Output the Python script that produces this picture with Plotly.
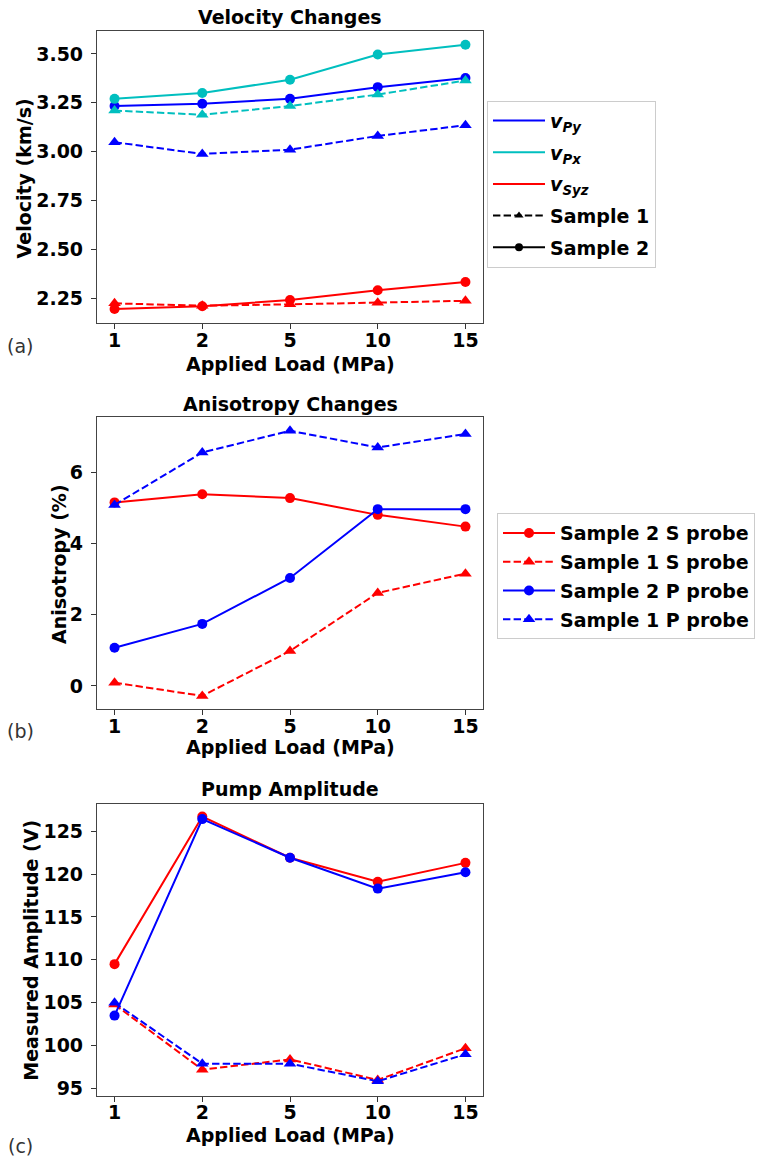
import plotly.graph_objects as go

# ---------------- data ----------------
loads = ["1", "2", "5", "10", "15"]

# Panel (a) Velocity (km/s)
vpy_s1 = [3.048, 2.988, 3.010, 3.080, 3.135]
vpy_s2 = [3.233, 3.245, 3.270, 3.330, 3.377]
vpx_s1 = [3.210, 3.189, 3.233, 3.292, 3.364]
vpx_s2 = [3.270, 3.300, 3.368, 3.497, 3.547]
vsyz_s1 = [2.223, 2.211, 2.218, 2.226, 2.236]
vsyz_s2 = [2.194, 2.208, 2.240, 2.290, 2.332]

# Panel (b) Anisotropy (%)
aniso_s2_s = [5.15, 5.38, 5.27, 4.80, 4.47]
aniso_s1_s = [0.09, -0.28, 0.98, 2.61, 3.15]
aniso_s2_p = [1.07, 1.74, 3.03, 4.96, 4.96]
aniso_s1_p = [5.08, 6.55, 7.16, 6.69, 7.07]

# Panel (c) Pump amplitude (V)
amp_s2_s = [109.5, 126.7, 121.9, 119.1, 121.3]
amp_s1_s = [104.8, 97.2, 98.4, 96.0, 99.7]
amp_s2_p = [103.5, 126.4, 121.9, 118.3, 120.2]
amp_s1_p = [105.0, 97.9, 97.9, 95.85, 99.0]

vel_ticks = [2.25, 2.50, 2.75, 3.00, 3.25, 3.50]
aniso_ticks = [0, 2, 4, 6]
amp_ticks = [95, 100, 105, 110, 115, 120, 125]

# ---------------- style ----------------
BLUE = "#0000ff"
CYAN = "#00bfbf"
RED = "#ff0000"
DASH = "7.4px,3.2px"
FONT = "DejaVu Sans"
FS = 19
W, H = 760, 1162

def px_x(p):
    return p / W

def px_y(p):
    return 1 - p / H

fig = go.Figure()

def msize(symbol):
    return 10 if symbol == "circle" else 11

def add(x, y, color, dash, symbol, xa, ya):
    fig.add_trace(go.Scatter(
        x=x, y=y, mode="lines+markers", showlegend=False,
        line=dict(color=color, width=2, dash=dash),
        marker=dict(color=color, size=msize(symbol), symbol=symbol),
        xaxis=xa, yaxis=ya, cliponaxis=False))

# Panel (a)
add(loads, vpy_s1, BLUE, DASH, "triangle-up", "x", "y")
add(loads, vpy_s2, BLUE, "solid", "circle", "x", "y")
add(loads, vpx_s1, CYAN, DASH, "triangle-up", "x", "y")
add(loads, vpx_s2, CYAN, "solid", "circle", "x", "y")
add(loads, vsyz_s1, RED, DASH, "triangle-up", "x", "y")
add(loads, vsyz_s2, RED, "solid", "circle", "x", "y")

# legend (a) entries
leg_a = [
    ("<i>v</i><sub><i>Py</i></sub>", BLUE, "solid", "lines", "circle"),
    ("<i>v</i><sub><i>Px</i></sub>", CYAN, "solid", "lines", "circle"),
    ("<i>v</i><sub><i>Syz</i></sub>", RED, "solid", "lines", "circle"),
    ("Sample 1", "black", DASH, "lines+markers", "triangle-up"),
    ("Sample 2", "black", "solid", "lines+markers", "circle"),
]
for i, (nm, c, d, m, s) in enumerate(leg_a):
    fig.add_trace(go.Scatter(
        x=[None], y=[None], mode=m, name=nm, legend="legend",
        legendgroup="a%d" % i,
        line=dict(color=c, width=2, dash=d),
        marker=dict(color=c, size=8, symbol=s),
        xaxis="x", yaxis="y"))

# Panel (b)
def addleg(x, y, color, dash, symbol, xa, ya, name, group):
    fig.add_trace(go.Scatter(
        x=x, y=y, mode="lines+markers", name=name, legend="legend2",
        legendgroup=group, showlegend=True,
        line=dict(color=color, width=2, dash=dash),
        marker=dict(color=color, size=msize(symbol), symbol=symbol),
        xaxis=xa, yaxis=ya, cliponaxis=False))

addleg(loads, aniso_s2_s, RED, "solid", "circle", "x2", "y2", "Sample 2 S probe", "b0")
addleg(loads, aniso_s1_s, RED, DASH, "triangle-up", "x2", "y2", "Sample 1 S probe", "b1")
addleg(loads, aniso_s2_p, BLUE, "solid", "circle", "x2", "y2", "Sample 2 P probe", "b2")
addleg(loads, aniso_s1_p, BLUE, DASH, "triangle-up", "x2", "y2", "Sample 1 P probe", "b3")

# Panel (c)
add(loads, amp_s2_s, RED, "solid", "circle", "x3", "y3")
add(loads, amp_s1_s, RED, DASH, "triangle-up", "x3", "y3")
add(loads, amp_s2_p, BLUE, "solid", "circle", "x3", "y3")
add(loads, amp_s1_p, BLUE, DASH, "triangle-up", "x3", "y3")

xdom = [px_x(97), px_x(483)]
doms = [
    [px_y(324), px_y(31)],
    [px_y(711.7), px_y(418.3)],
    [px_y(1099.3), px_y(806.7)],
]
yranges = [[2.123, 3.618], [-0.655, 7.55], [94.19, 128.17]]
yticks = [vel_ticks, aniso_ticks, amp_ticks]
yfmt = [".2f", "d", "d"]

tickfont = dict(family=FONT, size=FS, color="black", weight="bold")
axcommon = dict(showline=True, linecolor="#444444", linewidth=1.2, mirror=True,
                ticks="outside", ticklen=5, tickwidth=1.2, tickcolor="#333",
                showgrid=False, zeroline=False, tickfont=tickfont)

layout = dict(
    width=W, height=H, margin=dict(l=0, r=0, t=0, b=0),
    paper_bgcolor="white", plot_bgcolor="white",
    font=dict(family=FONT, size=FS, color="black"),
)
for i in range(3):
    sx = "" if i == 0 else str(i + 1)
    layout["xaxis" + sx] = dict(domain=xdom, anchor="y" + sx, type="category",
                                categoryorder="array", categoryarray=loads,
                                range=[-0.2, 4.2], ticklabelstandoff=-5, **axcommon)
    layout["yaxis" + sx] = dict(domain=doms[i], anchor="x" + sx, range=yranges[i],
                                tickmode="array", tickvals=yticks[i],
                                tickformat=yfmt[i], ticklabelstandoff=4, **axcommon)

legfont = dict(family=FONT, size=FS, color="black", weight="bold")
layout["legend"] = dict(x=px_x(487), y=px_y(101), xanchor="left", yanchor="top",
                        bgcolor="white", bordercolor="#cccccc", borderwidth=1,
                        font=legfont, traceorder="grouped", tracegroupgap=4,
                        itemwidth=52)
layout["legend2"] = dict(x=px_x(497), y=px_y(515), xanchor="left", yanchor="top",
                         bgcolor="white", bordercolor="#cccccc", borderwidth=1,
                         font=legfont, traceorder="grouped", tracegroupgap=1,
                         itemwidth=52)

ann = []
def text(x, y, t, angle=0, bold=True, size=FS, color="black"):
    ann.append(dict(x=px_x(x), y=px_y(y), xref="paper", yref="paper",
                    text=t, showarrow=False, textangle=angle,
                    xanchor="center", yanchor="middle",
                    font=dict(family=FONT, size=size, color=color,
                              weight="bold" if bold else "normal")))

text(290, 17, "Velocity Changes")
text(290, 405, "Anisotropy Changes")
text(290, 792, "Pump Amplitude")
text(290, 365, "Applied Load (MPa)")
text(290, 750, "Applied Load (MPa)")
text(290, 1139, "Applied Load (MPa)")
text(24, 179, "Velocity (km/s)", angle=-90)
text(59, 566, "Anisotropy (%)", angle=-90)
text(31, 954, "Measured Amplitude (V)", angle=-90)
text(20, 347, "(a)", bold=False, color="#333333")
text(20, 734, "(b)", bold=False, color="#333333")
text(20, 1150, "(c)", bold=False, color="#333333")
layout["annotations"] = ann

fig.update_layout(**layout)
fig.write_html("out.html")
